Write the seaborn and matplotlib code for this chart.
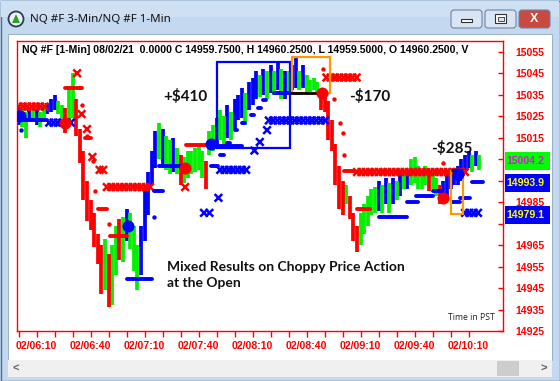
import numpy as np
import pandas as pd
import matplotlib
matplotlib.use("Agg")
import matplotlib.pyplot as plt
import matplotlib.transforms as mtransforms
from matplotlib.patches import Rectangle, FancyBboxPatch, Circle, Polygon
import seaborn as sns

# 1-min NQ chart, bars sampled every 2 minutes (minutes after 06:00 PST)
bar_step = 2
bar_high = [15029, 15028, 15027, 15029, 15030, 15028, 15027, 15030, 15031, 15033,
            15035, 15032, 15030, 15029, 15039, 15045, 15033, 15019, 15009, 14995,
            14986, 14980, 14970, 14965, 14968, 14961, 14965, 14974, 14977, 14978,
            14982, 14980, 14974, 14965, 14974, 14991, 14999, 15009, 15018, 15022,
            15019, 15016, 15014, 15015, 15010, 15007, 15006, 15009, 15009, 15010,
            15012, 15009, 15004, 15018, 15021, 15024, 15028, 15025, 15030, 15027,
            15033, 15035, 15038, 15036, 15041, 15043, 15046, 15044, 15047, 15046,
            15049, 15046, 15050, 15047, 15046, 15046, 15049, 15052, 15046, 15049,
            15044, 15042, 15043, 15041, 15037, 15036, 15032, 15023, 15012, 15002,
            14995, 14993, 14988, 14980, 14974, 14980, 14984, 14988, 14991, 14992,
            14995, 14993, 14996, 14994, 14996, 14995, 14998, 15000, 14999, 15005,
            15006, 15002, 15000, 15002, 15000, 14999, 14996, 14993, 14995, 15000,
            14997, 15001, 15002, 15005, 15007, 15009, 15007, 15009, 15007]
bar_low = [15021, 15020, 15015, 15023, 15024, 15021, 15020, 15024, 15026, 15027,
           15028, 15026, 15024, 15017, 15021, 15024, 15016, 15003, 14986, 14976,
           14972, 14964, 14956, 14942, 14944, 14936, 14937, 14951, 14958, 14957,
           14967, 14963, 14953, 14944, 14951, 14967, 14979, 14993, 15001, 15005,
           15002, 15000, 14998, 14999, 14998, 14993, 14994, 14996, 14998, 14999,
           15000, 14996, 14991, 15007, 15009, 15012, 15014, 15012, 15015, 15014,
           15019, 15023, 15024, 15021, 15028, 15030, 15033, 15034, 15035, 15033,
           15036, 15035, 15037, 15033, 15033, 15036, 15037, 15038, 15037, 15038,
           15036, 15036, 15037, 15036, 15028, 15027, 15014, 15009, 14993, 14982,
           14979, 14984, 14977, 14967, 14962, 14965, 14970, 14974, 14979, 14980,
           14981, 14980, 14984, 14980, 14984, 14986, 14988, 14991, 14991, 14993,
           14994, 14991, 14991, 14993, 14990, 14991, 14988, 14984, 14986, 14988,
           14991, 14993, 14993, 14995, 14999, 15001, 14999, 15002, 15000]
bar_color = ("bggbgbggbb" "bggrggrrrr" "rrrrgrggrg" "bgggbbbbbg" "bggbgrgggg"
             "ggrggbggbg" "bbbgbbbgbg" "bgbgbgbbgb" "ggggrrrrrr" "rgrrrggggg"
             "bgbgbgbgbg" "ggggrggrbb" "bbbbbbgbg")

# rows of stop markers: level, first minute, last minute
red_row_level = [15029.5, 14992, 15043, 14999]
red_row_start = [0, 49, 171, 188]
red_row_end = [16, 73, 188, 248]
blue_row_level = [15022, 15000, 15023, 14980]
blue_row_start = [17, 112, 139, 248]
blue_row_end = [31, 128, 172, 257]

# single x markers
red_x_min = [32.5, 35, 38, 41, 45, 47, 92.5]
red_x_px = [15045, 15026, 15019, 15006, 15000, 15000, 14992]
blue_x_min = [103, 106, 111, 131, 134, 138]
blue_x_px = [14980, 14980, 14987, 15009, 15013, 15018.5]

# entries / exits (big dots)
long_min = [0.8, 61, 107, 244]
long_px = [15025, 14974, 15012, 14998]
short_min = [26, 92.5, 168.5, 236]
short_px = [15022, 15001, 15036, 14987]

# trailing stop dashes: start, end, level
blue_dash_start = [0, 60, 75, 78, 107, 110, 112, 116, 120, 124, 129, 133, 136, 142, 200, 216, 221, 230, 241, 245, 252]
blue_dash_end = [16, 74, 80, 90, 111, 124, 114, 117.5, 121.5, 125.5, 130.5, 134.5, 137.5, 151, 216, 222, 230, 235, 245, 251, 258]
blue_dash_px = [15023, 14949, 14990, 15002, 15002, 15011, 15007, 15012.5, 15018.5, 15022, 15025.5, 15029, 15032.5,
                15036, 14978, 14985, 14988, 14990, 14985, 14987, 14994.5]
red_dash_start = [26, 37, 44, 51, 93, 181, 188]
red_dash_end = [35, 40, 49, 60, 105, 187, 195]
red_dash_px = [15038, 15015, 14982, 14969, 15011.5, 14999.5, 14982]
blue_dot_min = [1.3, 75]
blue_dot_px = [15018.5, 14978]
red_dot_min = [35, 38, 41.5, 42.5, 50, 169, 175, 178.5, 180, 181, 236]
red_dot_px = [15030, 15016, 15004, 14990, 14975, 15047, 15033, 15022, 15017, 15007, 15003]

black_start = [151, 240]
black_end = [168, 247]
black_px = [15036, 15000]

# trade boxes: m0, m1, p0, p1, colour
box_m0 = [110, 152, 240]
box_m1 = [151, 173, 247]
box_p0 = [15010, 15036, 14979.5]
box_p1 = [15050, 15052.5, 14999.5]
box_col = ["#0000FF", "#FF9900", "#FF9900"]

pnl_text = ["+$410", "-$170", "-$285"]
pnl_min = [92.7, 195, 240.8]
pnl_px = [15034, 15034, 15010]

tick_minutes = [10, 40, 70, 100, 130, 160, 190, 220, 250]
tick_labels = ["02/06:10", "02/06:40", "02/07:10", "02/07:40", "02/08:10",
               "02/08:40", "02/09:10", "02/09:40", "02/10:10"]
price_ticks = list(range(14925, 15056, 10))
hidden_ticks = [15005, 14995, 14975]  # covered by the last-price boxes

last_labels = ["15004.2", "14993.9", "14979.1"]
last_px = [15004.25, 14993.9, 14979.1]
last_face = ["#00FF00", "#0000FF", "#0000FF"]
last_text = ["#D020D0", "#FFFF00", "#FFFF00"]

BLUE, GREEN, RED = "#0000FF", "#00F000", "#FF0000"
pal = {"b": BLUE, "g": GREEN, "r": RED}

sns.set_style("white")
plt.rcParams["font.family"] = ["Liberation Sans", "DejaVu Sans"]

fig = plt.figure(figsize=(5.6, 3.81), dpi=100)
fig.patch.set_facecolor("#C4D8EF")

# window chrome, in pixel coordinates
bg = fig.add_axes([0, 0, 1, 1], zorder=0)
bg.set_xlim(0, 560)
bg.set_ylim(381, 0)
bg.axis("off")
bg.add_patch(Rectangle((0.5, 0.5), 559, 380, fc="#C4D8EF", ec="#4E6E90", lw=1))
bg.add_patch(Rectangle((1, 1), 558, 16, fc="#CFE0F3", ec="none"))
bg.add_patch(Rectangle((8, 34), 544, 326, fc="white", ec="#8EA6C0", lw=0.6))
bg.add_patch(Rectangle((8, 360), 544, 17, fc="#F0F0F0", ec="none"))
bg.add_patch(Rectangle((497, 361), 22, 15, fc="#CDCDCD", ec="none"))
bg.text(16, 368.5, "<", ha="center", va="center", fontsize=8, color="#606060", fontweight="bold")
bg.text(544, 368.5, ">", ha="center", va="center", fontsize=8, color="#606060", fontweight="bold")
bg.add_patch(Circle((16, 19), 7.5, fc="#EEF2F6", ec="#2A3C55", lw=1.3))
bg.add_patch(Polygon([(12, 23), (20, 23), (16, 14)], closed=True, fc="#2DA02D", ec="none"))
bg.text(30, 19.5, "NQ #F 3-Min/NQ #F 1-Min", ha="left", va="center", fontsize=8.3,
        family="Noto Sans", color="#101010")
for x0, fc in [(451, "#D9E5F4"), (485, "#D9E5F4"), (519, "#C84A40")]:
    bg.add_patch(FancyBboxPatch((x0, 10), 31, 18, boxstyle="round,pad=0,rounding_size=3",
                                fc=fc, ec="#6D85A4", lw=0.8))
bg.add_patch(Rectangle((461, 19), 11, 3, fc="white", ec="#303030", lw=0.8))
bg.add_patch(Rectangle((495, 14), 11, 9, fc="white", ec="#303030", lw=0.8))
bg.add_patch(Rectangle((497.5, 17), 6, 4, fc="#D9E5F4", ec="#303030", lw=0.6))
bg.text(534.5, 19, "X", ha="center", va="center", fontsize=9, fontweight="bold", color="white")

# price chart
ax = fig.add_axes([17 / 560, 50 / 381, 486 / 560, 290 / 381], zorder=1)
ax.set_facecolor("white")

df = pd.DataFrame({"minute": np.arange(len(bar_high)) * bar_step,
                   "high": bar_high, "low": bar_low, "c": list(bar_color)})
for code, grp in df.groupby("c"):
    ax.vlines(grp["minute"], grp["low"], grp["high"], color=pal[code], lw=2.7, zorder=2)

# stop rows of x markers
rows = []
for lvl, a, b in zip(red_row_level, red_row_start, red_row_end):
    for m in np.arange(a, b + 0.01, 2.4):
        rows.append((m, lvl, "red"))
for lvl, a, b in zip(blue_row_level, blue_row_start, blue_row_end):
    for m in np.arange(a, b + 0.01, 2.4):
        rows.append((m, lvl, "blue"))
for m, p in zip(red_x_min, red_x_px):
    rows.append((m, p, "red"))
for m, p in zip(blue_x_min, blue_x_px):
    rows.append((m, p, "blue"))
xdf = pd.DataFrame(rows, columns=["minute", "price", "side"])
sns.scatterplot(data=xdf, x="minute", y="price", hue="side", palette={"red": RED, "blue": BLUE},
                marker="x", s=30, linewidth=1.8, legend=False, ax=ax, zorder=3)

ax.hlines(blue_dash_px, blue_dash_start, blue_dash_end, color=BLUE, lw=2.8, capstyle="round", zorder=3)
ax.hlines(red_dash_px, red_dash_start, red_dash_end, color=RED, lw=2.8, capstyle="round", zorder=3)
ax.hlines(black_px, black_start, black_end, color="black", lw=2, zorder=4)
sns.scatterplot(x=blue_dot_min, y=blue_dot_px, color=BLUE, s=10, linewidth=0, ax=ax, zorder=3)
sns.scatterplot(x=red_dot_min, y=red_dot_px, color=RED, s=10, linewidth=0, ax=ax, zorder=3)

for m0, m1, p0, p1, c in zip(box_m0, box_m1, box_p0, box_p1, box_col):
    ax.add_patch(Rectangle((m0, p0), m1 - m0, p1 - p0, fill=False, ec=c, lw=1.6, zorder=3))

sns.scatterplot(x=long_min, y=long_px, color=BLUE, s=75, linewidth=0, ax=ax, zorder=5)
sns.scatterplot(x=short_min, y=short_px, color=RED, s=75, linewidth=0, ax=ax, zorder=5)

for t, m, p in zip(pnl_text, pnl_min, pnl_px):
    ax.text(m, p, t, ha="center", va="center", fontsize=11, fontweight="bold",
            family="Lato", color="#111111", zorder=6)
ax.text(82.5, 14951, "Mixed Results on Choppy Price Action\nat the Open", ha="left", va="center",
        fontsize=10, fontweight="bold", family="Lato", color="#111111", linespacing=1.4, zorder=6)

ax.text(0.983, 0.03, "Time in PST", transform=ax.transAxes, ha="right", va="bottom",
        fontsize=6.2, family="Open Sans", color="#202020")
ax.text(0.01, 0.985, "NQ #F [1-Min] 08/02/21  0.0000 C 14959.7500, H 14960.2500, L 14959.5000, "
        "O 14960.2500, V", transform=ax.transAxes, ha="left", va="top", fontsize=7.6,
        fontweight="bold", color="black", zorder=6)

ax.set_xlim(-0.9, 269.1)
ax.set_ylim(14925.3, 15060)
ax.set_xticks(tick_minutes)
ax.set_xticklabels(tick_labels)
ax.set_xticks(np.arange(0, 260, 10), minor=True)
ax.yaxis.tick_right()
ax.set_yticks(price_ticks)
ax.set_yticklabels(["" if p in hidden_ticks else str(p) for p in price_ticks])
ax.tick_params(axis="x", which="both", colors=RED, direction="out", length=4, width=1,
               bottom=True, labelsize=7.6, pad=3)
ax.tick_params(axis="y", colors=RED, direction="in", length=3.5, width=1, right=True,
               left=False, labelsize=7.6, pad=9)
for lab in ax.get_xticklabels() + ax.get_yticklabels():
    lab.set_fontweight("bold")
for sp in ax.spines.values():
    sp.set_color(RED)
    sp.set_linewidth(1)
ax.set_xlabel("")
ax.set_ylabel("")

# last-price boxes on the price scale
trans = mtransforms.blended_transform_factory(ax.transAxes, ax.transData)
for lab, p, fc, tc in zip(last_labels, last_px, last_face, last_text):
    ax.add_patch(Rectangle((1.004, p - 4.2), 0.0926, 8.4, transform=trans, fc=fc, ec="none",
                           clip_on=False, zorder=7))
    ax.text(1.007, p, lab, transform=trans, ha="left", va="center", fontsize=7.6,
            fontweight="bold", color=tc, zorder=8, clip_on=False)

fig.savefig("out.png", dpi=100)
